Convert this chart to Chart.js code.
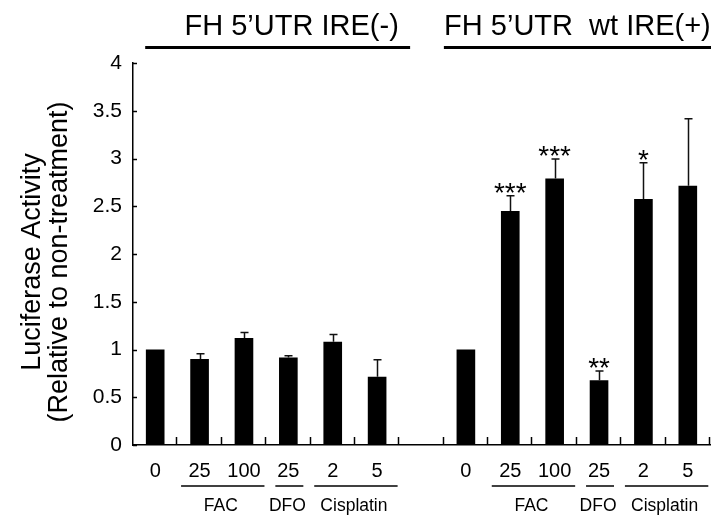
<!DOCTYPE html>
<html><head><meta charset="utf-8">
<script src="https://cdn.jsdelivr.net/npm/chart.js@4.4.1/dist/chart.umd.min.js"></script>
<style>html,body{margin:0;padding:0;background:#fff}#wrap{width:711px;height:519px;position:relative}</style>
</head><body><div id="wrap"><canvas id="c"></canvas></div>
<script>
// ---- data ----
const doseLabels = ['0', '25', '100', '25', '2', '5'];
const ireMinusMeans = [1.00, 0.90, 1.12, 0.915, 1.08, 0.715];
const ireMinusErr   = [0, 0.056, 0.058, 0.02, 0.077, 0.178];
const ireMinusSig   = ['', '', '', '', '', ''];
const irePlusMeans  = [1.00, 2.45, 2.79, 0.677, 2.576, 2.715];
const irePlusErr    = [0, 0.16, 0.205, 0.098, 0.38, 0.70];
const irePlusSig    = ['', '***', '***', '**', '*', ''];
const panelTitles   = ['FH 5\u2019UTR IRE(-)', 'FH 5\u2019UTR  wt IRE(+)'];
const treatments    = ['FAC', 'DFO', 'Cisplatin'];
const treatmentFrom = [1, 3, 4];
const treatmentTo   = [2, 3, 5];
const yTitleLines   = ['Luciferase Activity', '(Relative to non-treatment)'];
const yMin = 0, yMax = 4, yStep = 0.5;

// combined category axis: panel 1, spacer, panel 2
const categories = [...doseLabels, '', ...doseLabels];
const values = [...ireMinusMeans, null, ...irePlusMeans];
const errors = [...ireMinusErr, 0, ...irePlusErr];
const sigs = [...ireMinusSig, '', ...irePlusSig];
const panelStart = [0, doseLabels.length + 1];

const FONT = '"Liberation Sans", Arial, Helvetica, sans-serif';
Chart.defaults.color = '#000';
Chart.defaults.font.family = FONT;

const decor = {
  id: 'decor',
  afterDatasetsDraw(chart) {
    const {ctx, scales: {x, y}} = chart;
    ctx.save();
    ctx.strokeStyle = '#111';
    ctx.lineWidth = 1.5;
    values.forEach((v, i) => {
      if (v == null || !errors[i]) return;
      const px = Math.round(x.getPixelForValue(i)) + 0.5;
      const pb = y.getPixelForValue(v);
      const pt = y.getPixelForValue(v + errors[i]);
      ctx.beginPath();
      ctx.moveTo(px, pb); ctx.lineTo(px, pt);
      ctx.moveTo(px - 4, pt); ctx.lineTo(px + 4, pt);
      ctx.stroke();
    });
    ctx.fillStyle = '#000';
    ctx.font = '28px ' + FONT;
    ctx.textAlign = 'center';
    ctx.textBaseline = 'alphabetic';
    values.forEach((v, i) => {
      if (!sigs[i]) return;
      const px = x.getPixelForValue(i);
      const pt = y.getPixelForValue(v + errors[i]);
      ctx.fillText(sigs[i], px, pt + 6);
    });
    ctx.restore();
  },
  afterDraw(chart) {
    const {ctx, scales: {x, y}, chartArea} = chart;
    const half = (x.getPixelForValue(1) - x.getPixelForValue(0)) / 2;
    ctx.save();
    ctx.strokeStyle = '#000';
    ctx.lineWidth = 1.5;
    // inward y ticks
    y.ticks.forEach(t => {
      const py = Math.round(y.getPixelForValue(t.value)) + 0.5;
      ctx.beginPath(); ctx.moveTo(chartArea.left, py); ctx.lineTo(chartArea.left + 4, py); ctx.stroke();
    });
    // inward x ticks at category boundaries
    for (let i = 1; i <= categories.length; i++) {
      const px = Math.round(x.getPixelForValue(i - 1) + half) - 0.5;
      ctx.beginPath(); ctx.moveTo(px, chartArea.bottom); ctx.lineTo(px, chartArea.bottom - 8); ctx.stroke();
    }
    // treatment group lines and labels
    ctx.font = '17.5px ' + FONT;
    ctx.fillStyle = '#000';
    ctx.textAlign = 'center';
    ctx.textBaseline = 'middle';
    panelStart.forEach(p0 => {
      treatments.forEach((lab, k) => {
        const a = x.getPixelForValue(p0 + treatmentFrom[k]);
        const b = x.getPixelForValue(p0 + treatmentTo[k]);
        const ext = treatmentTo[k] > treatmentFrom[k] ? 18.5 : 13;
        const l = a - ext, r = b + ext + 2;
        ctx.beginPath(); ctx.moveTo(l, 486); ctx.lineTo(r, 486); ctx.stroke();
        ctx.fillText(lab, (l + r) / 2 - 2, 506);
      });
    });
    // panel titles and lines
    ctx.lineWidth = 3;
    const t1l = x.getPixelForValue(0) - 10, t1r = x.getPixelForValue(5) + 33;
    const t2l = x.getPixelForValue(7) - 22, t2r = chartArea.right + 1;
    ctx.beginPath(); ctx.moveTo(t1l, 47.5); ctx.lineTo(t1r, 47.5); ctx.stroke();
    ctx.beginPath(); ctx.moveTo(t2l, 47.5); ctx.lineTo(t2r, 47.5); ctx.stroke();
    ctx.font = '29px ' + FONT;
    ctx.textBaseline = 'alphabetic';
    ctx.fillText(panelTitles[0], (t1l + t1r) / 2 + 14, 35);
    ctx.fillText(panelTitles[1], (t2l + t2r) / 2, 35);
    // y axis title (two lines, rotated)
    ctx.font = '27px ' + FONT;
    const cy = (chartArea.top + chartArea.bottom) / 2 + 8;
    [40, 67].forEach((bx, k) => {
      ctx.save();
      ctx.translate(bx, cy);
      ctx.rotate(-Math.PI / 2);
      ctx.fillText(yTitleLines[k], 0, 0);
      ctx.restore();
    });
    ctx.restore();
  }
};

new Chart(document.getElementById('c'), {
  type: 'bar',
  data: {
    labels: categories,
    datasets: [{
      data: values,
      backgroundColor: '#000',
      borderColor: '#222',
      borderWidth: 0,
      barPercentage: 0.42,
      categoryPercentage: 1.0
    }]
  },
  options: {
    responsive: true,
    maintainAspectRatio: false,
    animation: false,
    events: [],
    layout: { padding: { top: 63, right: 1, left: 0, bottom: 0 } },
    plugins: { legend: { display: false }, tooltip: { enabled: false } },
    scales: {
      x: {
        offset: true,
        grid: { display: true, drawOnChartArea: false, drawTicks: false, offset: true },
        border: { display: true, color: '#000', width: 1.5 },
        ticks: { font: { size: 20 }, padding: 14, maxRotation: 0, autoSkip: false, color: '#000' },
        afterFit(s) { s.height = 74; }
      },
      y: {
        min: yMin, max: yMax,
        grid: { display: true, drawOnChartArea: false, drawTicks: false },
        border: { display: true, color: '#000', width: 1.5 },
        ticks: { stepSize: yStep, font: { size: 21 }, padding: 11, color: '#000',
                 callback: (v) => String(Number(v)) },
        afterFit(s) { s.width = 133; }
      }
    }
  },
  plugins: [decor]
});
</script>
</body></html>
